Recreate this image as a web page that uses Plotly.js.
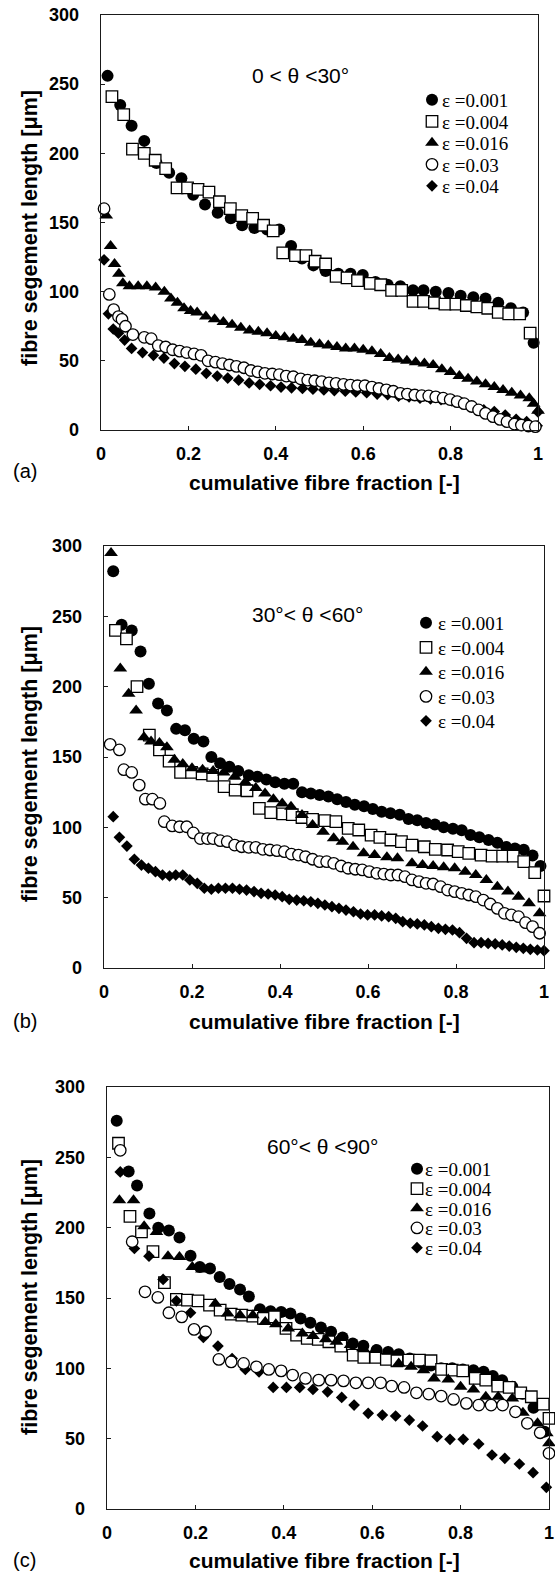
<!DOCTYPE html>
<html><head><meta charset="utf-8">
<script src="https://cdn.plot.ly/plotly-3.0.1.min.js"></script>
<style>html,body{margin:0;padding:0;background:#fff}</style>
</head><body><div id="chart" style="width:555px;height:1575px"></div>
<script>
// ---------- data ----------
const SERIES_NAMES = ['ε =0.001', 'ε =0.004', 'ε =0.016', 'ε =0.03', 'ε =0.04'];
const X_TICKS = [0, 0.2, 0.4, 0.6, 0.8, 1];
const X_TICK_TEXT = ['0', '0.2', '0.4', '0.6', '0.8', '1'];
const Y_TICKS = [0, 50, 100, 150, 200, 250, 300];
const PANEL_TITLES = ['0 < θ <30°', '30°< θ <60°', '60°< θ <90°'];
const PANEL_LABELS = ['(a)', '(b)', '(c)'];
const X_TITLE = 'cumulative fibre fraction [-]';
const Y_TITLE = 'fibre segement length [μm]';

// panel (a) 0 < theta < 30
const a001_x = [0.015,0.044,0.070,0.099,0.127,0.156,0.184,0.211,0.238,0.267,0.297,0.323,0.351,0.380,0.408,0.435,0.460,0.486,0.514,0.543,0.571,0.599,0.628,0.656,0.685,0.714,0.738,0.766,0.795,0.823,0.852,0.880,0.909,0.938,0.966,0.990];
const a001_y = [256,235,220,209,193,186,182,170,163,157,153,148,146,145,145,133,124,119,115,113,113,112,107,105,104,101,101,100,99,97,96,95,92,88,85,63];
const a004_x = [0.025,0.052,0.072,0.099,0.124,0.148,0.174,0.198,0.222,0.247,0.271,0.296,0.322,0.347,0.372,0.394,0.416,0.445,0.469,0.490,0.514,0.538,0.563,0.587,0.616,0.640,0.665,0.688,0.714,0.738,0.763,0.787,0.812,0.836,0.860,0.885,0.909,0.933,0.958,0.982];
const a004_y = [241,228,203,200,195,189,175,175,174,172,165,160,155,153,148,144,128,126,126,122,120,111,110,108,106,105,101,101,93,93,92,91,91,90,89,88,85,84,84,70];
const a016_x = [0.012,0.022,0.031,0.041,0.050,0.065,0.085,0.105,0.125,0.145,0.160,0.175,0.190,0.205,0.220,0.240,0.260,0.280,0.300,0.320,0.340,0.360,0.380,0.400,0.420,0.440,0.460,0.480,0.500,0.520,0.540,0.560,0.580,0.600,0.620,0.640,0.660,0.680,0.700,0.720,0.740,0.760,0.780,0.800,0.820,0.840,0.860,0.880,0.900,0.920,0.940,0.960,0.980,0.990,1.000];
const a016_y = [155,133,120,113,106,104,104,104,103,100,95,92,88,86,85,82,80,78,76,74,72,71,70,68,67,66,65,63,62,61,60,59,59,58,57,55,52,51,50,49,48,47,44,42,39,37,35,33,31,29,27,25,23,19,14];
const a03_x = [0.007,0.019,0.029,0.040,0.048,0.056,0.073,0.099,0.115,0.131,0.148,0.164,0.180,0.196,0.213,0.229,0.245,0.262,0.278,0.294,0.310,0.327,0.343,0.359,0.375,0.392,0.408,0.424,0.440,0.457,0.473,0.489,0.505,0.522,0.538,0.555,0.571,0.587,0.604,0.620,0.636,0.653,0.669,0.685,0.701,0.718,0.734,0.750,0.766,0.783,0.799,0.815,0.831,0.848,0.864,0.880,0.897,0.913,0.929,0.946,0.962,0.978,0.994];
const a03_y = [160,98,87,82,80,75,69,67,66,61,60,58,57,56,55,54,50,49,48,47,46,45,43,42,41,40.5,40,39,38.5,37,36,35.6,35,34,33.7,33,32.5,32,32,31,30,29,28,26.5,26,25.3,24.8,24.6,24,23,22,20.5,19,17,14.5,12,9.6,7.7,6,4.3,3.6,2.9,2.4];
const a04_x = [0.007,0.017,0.028,0.040,0.054,0.070,0.095,0.120,0.144,0.168,0.192,0.217,0.241,0.266,0.290,0.315,0.339,0.363,0.388,0.412,0.436,0.461,0.485,0.510,0.534,0.559,0.583,0.608,0.632,0.656,0.681,0.705,0.730,0.754,0.778,0.803,0.827,0.852,0.876,0.900,0.925,0.950,0.974,0.998,1.000];
const a04_y = [123,84,73,70,65,59,56,54,52,48,46,44,41,39,37.5,36,34,33,32,31,30.5,30,29.5,29,28.5,28,27.5,27,26,25.5,24.5,24,23,22.5,22,21,19.5,17,14.5,13.3,10.8,7.7,6,3,13];

// panel (b) 30 < theta < 60
const b001_x = [0.021,0.040,0.063,0.083,0.102,0.123,0.143,0.164,0.184,0.204,0.226,0.244,0.264,0.285,0.305,0.329,0.349,0.369,0.389,0.410,0.430,0.450,0.470,0.490,0.510,0.530,0.550,0.570,0.591,0.611,0.631,0.651,0.672,0.692,0.712,0.732,0.752,0.772,0.793,0.813,0.833,0.853,0.874,0.894,0.914,0.934,0.954,0.974,0.992];
const b001_y = [282,244,240,225,202,188,183,170,169,163,161,150,145.5,143,140,137,136,134,132,131,131,125,124,123,122,120,118,116,115,113,111,110,109,106,105,103,102,100,99,98,94.5,93,91,89,86,85,84,80,72.5];
const b004_x = [0.026,0.051,0.075,0.103,0.126,0.148,0.174,0.199,0.223,0.247,0.273,0.298,0.325,0.353,0.379,0.406,0.428,0.450,0.474,0.502,0.527,0.555,0.579,0.607,0.627,0.652,0.676,0.700,0.728,0.753,0.781,0.805,0.829,0.857,0.882,0.906,0.930,0.954,0.979,1.000];
const b004_y = [240,234,200,165.6,155,147,139,139,138,137,129,126.5,126,113.5,110.4,109.5,109,107,105.7,104.7,104,99.3,98.1,94.5,92.9,91,89.8,87.4,86.2,84.4,83.9,82.7,81.5,80.3,79.6,79.6,79.6,75.6,67.8,51.2];
const b016_x = [0.016,0.037,0.056,0.073,0.091,0.107,0.126,0.143,0.160,0.179,0.200,0.224,0.248,0.272,0.297,0.321,0.345,0.366,0.385,0.405,0.425,0.450,0.474,0.498,0.522,0.542,0.566,0.590,0.615,0.643,0.667,0.700,0.724,0.748,0.772,0.797,0.821,0.845,0.869,0.894,0.918,0.942,0.966,0.990];
const b016_y = [295,213,195,183,164,161,160,157,148,145,142,141,140,139,136,132,128,124,120,117,114.7,108.8,101.7,96.9,92.2,89.8,86.2,81.5,80.3,78.7,78,74.4,73.2,72.5,71.6,70.9,68.5,66.1,62.6,57.8,54.3,50.7,46,38.9];
const b03_x = [0.014,0.035,0.045,0.063,0.080,0.094,0.110,0.127,0.137,0.155,0.172,0.188,0.203,0.219,0.235,0.248,0.264,0.280,0.297,0.313,0.329,0.345,0.361,0.377,0.393,0.410,0.426,0.442,0.458,0.474,0.490,0.506,0.522,0.539,0.555,0.571,0.587,0.603,0.620,0.636,0.652,0.668,0.684,0.700,0.716,0.732,0.748,0.765,0.781,0.797,0.813,0.829,0.845,0.862,0.878,0.894,0.910,0.926,0.942,0.958,0.974,0.990];
const b03_y = [159,155,141,139,130,120,120,117,104,101,100.4,100.4,96,92,92,92,90.5,89.8,87.4,86.2,85.8,85.8,84.4,83.9,83.4,82.7,81,80.3,79.1,77.3,75.6,75.6,74.4,72.5,70.9,70.2,69.7,68.5,67.3,66.8,66.1,66.1,64.9,62.6,61.4,60.2,59.7,57.8,55.4,54.3,53.1,51.9,50.7,48.3,45.5,42.4,38.9,37.7,36.5,32.2,29.4,24.7];
const b04_x = [0.021,0.035,0.052,0.069,0.085,0.101,0.117,0.133,0.149,0.163,0.179,0.195,0.212,0.228,0.244,0.260,0.276,0.292,0.308,0.324,0.341,0.357,0.373,0.389,0.405,0.421,0.438,0.454,0.470,0.486,0.502,0.518,0.534,0.550,0.567,0.583,0.599,0.615,0.631,0.647,0.663,0.679,0.696,0.712,0.728,0.744,0.760,0.776,0.792,0.808,0.824,0.841,0.857,0.873,0.889,0.905,0.921,0.937,0.953,0.969,0.985,1.000];
const b04_y = [107.6,92.9,86.7,77.3,73.2,70.9,68.5,66.1,65.4,66.1,66.1,62.6,60.2,56.7,56,56.7,56.7,56.7,56,55.4,54.3,53.1,52.6,51.9,50.7,48.8,48.3,47.8,47.1,46,44.8,43.6,42.4,41.2,40,38.4,37.7,37.7,37,36.5,35.3,32.9,31.8,31.3,30.6,29.4,28.2,27.5,27,25.1,21.1,18,18,17.5,17.1,16.4,15.6,14.7,14,13.3,12.8,12.3];

// panel (c) 60 < theta < 90
const c001_x = [0.022,0.049,0.068,0.096,0.116,0.140,0.164,0.189,0.210,0.233,0.255,0.277,0.301,0.321,0.346,0.370,0.394,0.415,0.438,0.460,0.484,0.507,0.533,0.556,0.580,0.610,0.636,0.660,0.685,0.710,0.733,0.756,0.781,0.805,0.829,0.852,0.873,0.894,0.917,0.940,0.965,0.990];
const c001_y = [276,240,230,210,200,198,193,180,172,171,165,160,156,151,142,140.5,140,139,135.5,132.4,129,126,122,117.7,116,113,111.7,110,107,104,102,100,100,99.2,98.7,97.5,94.5,91.6,86.9,82,72,55];
const c004_x = [0.026,0.052,0.078,0.104,0.130,0.157,0.182,0.206,0.232,0.256,0.281,0.305,0.330,0.354,0.379,0.405,0.429,0.453,0.478,0.502,0.529,0.557,0.581,0.608,0.632,0.656,0.683,0.707,0.733,0.757,0.781,0.805,0.833,0.857,0.884,0.910,0.936,0.960,0.987,1.000];
const c004_y = [260,208,197,183,161,149,148.5,148,145,141.4,138.5,137.8,137.1,135.5,136.6,128.4,123.6,121.3,120.6,118.9,115.8,109.4,107.8,107.8,106.3,105.4,105.9,105.9,105.4,99.2,98.7,98.2,92.8,91.6,87.4,86.4,82.6,79.8,74.6,64.4];
const c016_x = [0.028,0.060,0.084,0.112,0.138,0.164,0.193,0.215,0.245,0.273,0.301,0.330,0.358,0.382,0.410,0.442,0.466,0.495,0.519,0.551,0.579,0.607,0.636,0.660,0.688,0.716,0.740,0.772,0.800,0.829,0.857,0.885,0.917,0.941,0.974,0.995,1.000];
const c016_y = [219.5,219.5,201,197,179.7,179.2,172.1,170.3,146,139,137.8,137.8,133,131.4,128.4,124.8,122.9,120.6,118.9,116.5,114.2,113,111.8,103.5,101.1,98.7,92.8,92.1,86.9,85,79.8,79.8,78.6,68.4,60.9,53.8,46.7];
const c03_x = [0.030,0.057,0.086,0.115,0.140,0.169,0.197,0.223,0.253,0.281,0.309,0.338,0.366,0.394,0.420,0.449,0.479,0.507,0.535,0.563,0.591,0.619,0.644,0.672,0.700,0.728,0.756,0.784,0.813,0.841,0.869,0.895,0.924,0.951,0.980,1.000];
const c03_y = [255,190,154.4,150.4,139.5,136.6,127.7,126,106.3,104.6,103.5,101.1,99.2,98.2,95.2,92.8,91.6,91.6,91.1,89.7,89.7,89.7,87.4,86.4,82.6,81.7,80.3,77.9,75.1,73.9,73.9,73.9,69.1,60.9,54.2,39.6];
const c04_x = [0.030,0.062,0.095,0.127,0.157,0.189,0.218,0.251,0.283,0.313,0.344,0.376,0.406,0.436,0.466,0.499,0.531,0.559,0.591,0.623,0.653,0.684,0.714,0.747,0.776,0.806,0.841,0.871,0.900,0.933,0.964,0.994];
const c04_y = [239.6,185.2,179.7,163.2,148,139.5,122,115.8,107,99.2,97.5,86.4,86.4,86.4,85,83.3,79.3,73.9,68,66.8,66.1,63.2,59,51.4,49.5,49.5,46.2,38.4,36,32,25.8,15.4];

// ---------- layout / styling ----------
const W = 555, H = 1575;
const fx = p => p / W;          // pixel -> paper x
const fy = p => 1 - p / H;      // pixel -> paper y

const PANELS = [
  { data: [[a001_x,a001_y],[a004_x,a004_y],[a016_x,a016_y],[a03_x,a03_y],[a04_x,a04_y]],
    xpx: [101, 538], ypx: [15, 430], title: [300, 75],
    leg: { row1: 99, step: 21.5, sym: 432, text: 442 },
    lab: 471, xt: 483, yt: 228 },
  { data: [[b001_x,b001_y],[b004_x,b004_y],[b016_x,b016_y],[b03_x,b03_y],[b04_x,b04_y]],
    xpx: [104, 544], ypx: [546, 968], title: [307, 615],
    leg: { row1: 622, step: 24.5, sym: 426, text: 438 },
    lab: 1021, xt: 1021, yt: 764 },
  { data: [[c001_x,c001_y],[c004_x,c004_y],[c016_x,c016_y],[c03_x,c03_y],[c04_x,c04_y]],
    xpx: [107, 549], ypx: [1087, 1509], title: [322, 1146],
    leg: { row1: 1168, step: 19.7, sym: 417, text: 425 },
    lab: 1560, xt: 1560, yt: 1297 }
];

const STYLES = [
  { symbol: 'circle', size: 12, color: '#000', lw: 0 },
  { symbol: 'square', size: 11.5, color: '#fff', lw: 1.3 },
  { symbol: 'triangle-up', size: 12, color: '#000', lw: 0 },
  { symbol: 'circle', size: 11.5, color: '#fff', lw: 1.3 },
  { symbol: 'diamond', size: 9, color: '#000', lw: 0 }
];
const DRAW_ORDER = [0, 1, 2, 4, 3];

const SANS = 'Liberation Sans, Arial, sans-serif';
const SERIF = 'Liberation Serif, Times New Roman, serif';
const LEG_FONT = 19;
const LEG_TOP_OFFSET = 18;   // first legend row centre below legend top (px)

const traces = [];
const layout = {
  width: W, height: H, margin: { l: 0, r: 0, t: 0, b: 0 },
  paper_bgcolor: '#fff', plot_bgcolor: '#fff', showlegend: true,
  annotations: []
};

PANELS.forEach((p, i) => {
  const n = i === 0 ? '' : String(i + 1);
  const legendId = 'legend' + n;
  DRAW_ORDER.forEach(s => {
    const st = STYLES[s];
    traces.push({
      type: 'scatter', mode: 'markers',
      x: p.data[s][0], y: p.data[s][1],
      xaxis: 'x' + n, yaxis: 'y' + n,
      name: SERIES_NAMES[s], legend: legendId, legendrank: s + 1,
      cliponaxis: false, hoverinfo: 'skip',
      marker: { symbol: st.symbol, size: st.size, color: st.color,
                line: { color: '#000', width: st.lw } }
    });
  });
  const axCommon = {
    showline: true, mirror: true, linecolor: '#1a1a1a', linewidth: 1.3,
    ticks: 'inside', ticklen: 4, tickwidth: 1, tickcolor: '#1a1a1a',
    showgrid: false, zeroline: false, fixedrange: true,
    tickfont: { family: SANS, size: 18, weight: 'bold', color: '#000' }
  };
  layout['xaxis' + n] = Object.assign({}, axCommon, {
    domain: [fx(p.xpx[0]), fx(p.xpx[1])], range: [0, 1],
    tickmode: 'array', tickvals: X_TICKS, ticktext: X_TICK_TEXT,
    anchor: 'y' + n, ticklabelstandoff: 7
  });
  layout['yaxis' + n] = Object.assign({}, axCommon, {
    domain: [fy(p.ypx[1]), fy(p.ypx[0])], range: [0, 300],
    tickmode: 'array', tickvals: Y_TICKS,
    anchor: 'x' + n, ticklabelstandoff: 17
  });
  layout[legendId] = {
    x: fx(p.leg.text - 40), y: fy(p.leg.row1 - LEG_TOP_OFFSET), xanchor: 'left', yanchor: 'top',
    bgcolor: 'rgba(0,0,0,0)', borderwidth: 0, traceorder: 'normal',
    tracegroupgap: 0, itemclick: false, itemdoubleclick: false,
    font: { family: SERIF, size: LEG_FONT, color: '#000' }
  };
  layout.annotations.push(
    { text: PANEL_TITLES[i], xref: 'paper', yref: 'paper', x: fx(p.title[0]), y: fy(p.title[1]),
      xanchor: 'center', yanchor: 'middle', showarrow: false,
      font: { family: SANS, size: 21, color: '#000' } },
    { text: X_TITLE, xref: 'paper', yref: 'paper', x: fx(324), y: fy(p.xt),
      xanchor: 'center', yanchor: 'middle', showarrow: false, borderpad: 0,
      font: { family: SANS, size: 21, weight: 'bold', color: '#000' } },
    { text: Y_TITLE, xref: 'paper', yref: 'paper', x: fx(30), y: fy(p.yt), textangle: -90,
      xanchor: 'center', yanchor: 'middle', showarrow: false,
      font: { family: SANS, size: 21.5, weight: 'bold', color: '#000' } },
    { text: PANEL_LABELS[i], xref: 'paper', yref: 'paper', x: fx(12), y: fy(p.lab),
      xanchor: 'left', yanchor: 'middle', showarrow: false, borderpad: 0,
      font: { family: SANS, size: 20, color: '#000' } }
  );
});

// tighten Plotly's own legend rows to the figure's spacing and pull symbols next to text
function tuneLegends(gd) {
  PANELS.forEach((p, i) => {
    const id = i === 0 ? 'legend' : 'legend' + (i + 1);
    const lg = gd.querySelector('g.' + id);
    if (!lg) return;
    const items = lg.querySelectorAll('g.traces');
    if (!items.length) return;
    const parse = el => {
      const m = /translate\(\s*([-\d.e]+)[ ,]+([-\d.e]+)/.exec(el.getAttribute('transform') || '');
      return m ? [parseFloat(m[1]), parseFloat(m[2])] : [0, 0];
    };
    const [x0, y0] = parse(items[0]);
    const dx = p.leg.sym - (p.leg.text - 40) - 20;
    items.forEach((it, k) => {
      it.setAttribute('transform', 'translate(' + x0 + ',' + (y0 + k * p.leg.step) + ')');
      const sym = it.querySelector('g.legendsymbols');
      if (sym) sym.setAttribute('transform', 'translate(' + dx + ',0)');
    });
  });
}

Plotly.newPlot('chart', traces, layout, { displayModeBar: false, staticPlot: true })
  .then(tuneLegends);
</script>
</body></html>
